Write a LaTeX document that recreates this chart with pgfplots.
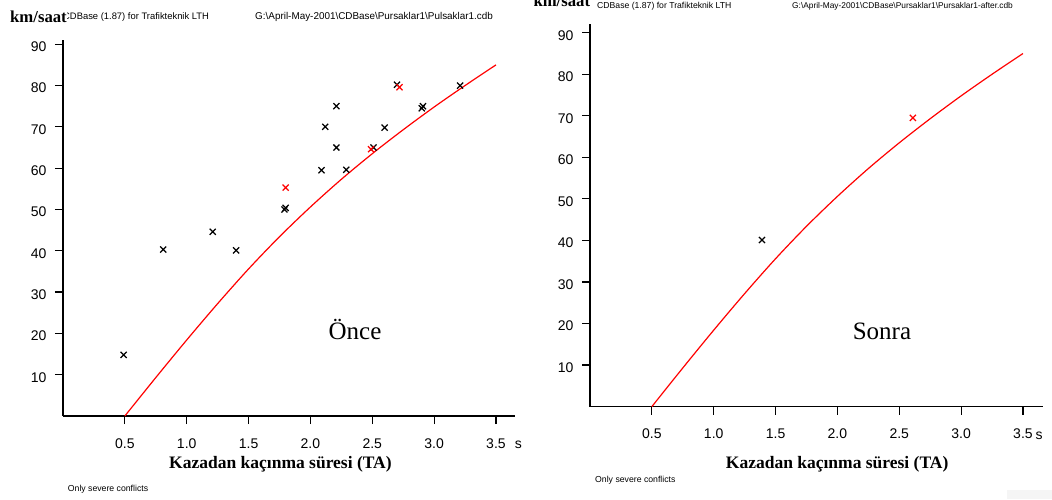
\documentclass[border=0pt]{standalone}
\usepackage{fontspec}
\setmainfont{Liberation Serif}
\setsansfont{Liberation Sans}
\usepackage{pgfplots}
\pgfplotsset{compat=1.18}

% TA curve (severe conflict limit)
\pgfplotstableread{
ta   v
0.50 0.0
0.75 9.3
1.00 18.4
1.25 27.2
1.50 35.6
1.75 43.4
2.00 50.6
2.25 57.3
2.50 63.5
2.75 69.3
3.00 74.8
3.25 80.0
3.50 85.0
}\limitcurve

\pgfplotsset{
  tcpanel/.style={
    scale only axis, anchor=south west,
    axis x line*=bottom, axis y line*=left,
    axis line style={-, black, line width=1.2pt},
    tick align=outside, major tick length=8pt,
    tick style={black, line width=1.2pt},
    xmin=0, ymin=0,
    xtick={0.5,1.0,1.5,2.0,2.5,3.0,3.5},
    xticklabels={0.5,1.0,1.5,2.0,2.5,3.0,3.5},
    ytick={10,20,30,40,50,60,70,80,90},
    yticklabels={10,20,30,40,50,60,70,80,90},
    tick label style={font=\sffamily\fontsize{14}{16}\selectfont, inner sep=0pt},
    xticklabel style={anchor=base, yshift=-24.3pt},
    yticklabel style={anchor=base east, xshift=-8.3pt, yshift=-7.4pt},
    clip=false,
  },
  curve/.style={red, line width=1.2pt, no marks, smooth, tension=0.5},
  blk/.style={only marks, mark=x, mark size=4.3pt, black, mark options={line width=1.25pt}},
  rd/.style={only marks, mark=x, mark size=4.3pt, red, mark options={line width=1.25pt}},
}

\begin{document}
\begin{tikzpicture}[x=1pt, y=1pt]
\path[use as bounding box] (0,0) rectangle (1052,499);

% ---- left panel: before
\begin{axis}[tcpanel, at={(63pt,83pt)}, width=452pt, height=376.3pt,
  xmax=3.654, ymax=91.1]
\addplot[curve] table[x=ta, y=v] {\limitcurve};
\addplot[blk] coordinates {
  (0.49,14.8) (0.81,40.3) (1.21,44.6) (1.40,40.1)
  (1.79,50.0) (1.80,50.4) (2.09,59.5) (2.12,70.0)
  (2.21,75.0) (2.21,65.0) (2.29,59.6) (2.51,65.0)
  (2.60,69.8) (2.70,80.2) (2.90,74.5) (2.91,75.0) (3.21,80.0)
};
\addplot[rd] coordinates {(1.80,55.3) (2.49,64.6) (2.72,79.6)};
\end{axis}

% ---- right panel: after
\begin{axis}[tcpanel, at={(590pt,92.4pt)}, width=453pt, height=382.6pt,
  xmax=3.662, ymax=92.1]
\addplot[curve] table[x=ta, y=v] {\limitcurve};
\addplot[blk] coordinates {(1.39,40.1)};
\addplot[rd] coordinates {(2.61,69.5)};
\end{axis}

% panel texts
\node[anchor=base, font=\fontsize{25}{28}\selectfont] at (355,160) {Önce};
\node[anchor=base, font=\fontsize{25}{28}\selectfont] at (882,160) {Sonra};

\node[anchor=base west, inner sep=0pt, font=\bfseries\fontsize{17.5}{20}\selectfont] at (169,30.7) {Kazadan kaçınma süresi (TA)};
\node[anchor=base west, inner sep=0pt, font=\bfseries\fontsize{17.5}{20}\selectfont] at (725.7,30.7) {Kazadan kaçınma süresi (TA)};

\node[anchor=base, inner sep=0pt, font=\sffamily\fontsize{14}{16}\selectfont] at (518.3,50.7) {s};
\node[anchor=base, inner sep=0pt, font=\sffamily\fontsize{14}{16}\selectfont] at (1039,59.7) {s};

\node[anchor=base west, inner sep=0pt, font=\sffamily\fontsize{8.7}{10}\selectfont] at (67.7,8) {Only severe conflicts};
\node[anchor=base west, inner sep=0pt, font=\sffamily\fontsize{8.7}{10}\selectfont] at (595,16.7) {Only severe conflicts};

% header lines
\node[anchor=base west, inner sep=0pt, font=\sffamily\fontsize{9.4}{11}\selectfont] at (63,479) {CDBase (1.87) for Trafikteknik LTH};
\node[anchor=base west, inner sep=0pt, font=\sffamily\fontsize{9.9}{11}\selectfont] at (255,479)
  {G:\textbackslash April-May-2001\textbackslash CDBase\textbackslash Pursaklar1\textbackslash Pulsaklar1.cdb};
\node[anchor=base west, fill=white, inner sep=0.3pt, font=\bfseries\fontsize{16.7}{19}\selectfont] at (9.7,476.3) {km/saat};

\node[anchor=base west, inner sep=0pt, font=\sffamily\fontsize{8.65}{10}\selectfont] at (597,490.7) {CDBase (1.87) for Trafikteknik LTH};
\node[anchor=base west, inner sep=0pt, font=\sffamily\fontsize{8.36}{10}\selectfont] at (792,490.7)
  {G:\textbackslash April-May-2001\textbackslash CDBase\textbackslash Pursaklar1\textbackslash Pursaklar1-after.cdb};
\node[anchor=base west, inner sep=0pt, font=\bfseries\fontsize{16.7}{19}\selectfont] at (533.3,492) {km/saat};

\fill[gray!8] (1006.7,0) rectangle (1052,9);
\end{tikzpicture}
\end{document}
